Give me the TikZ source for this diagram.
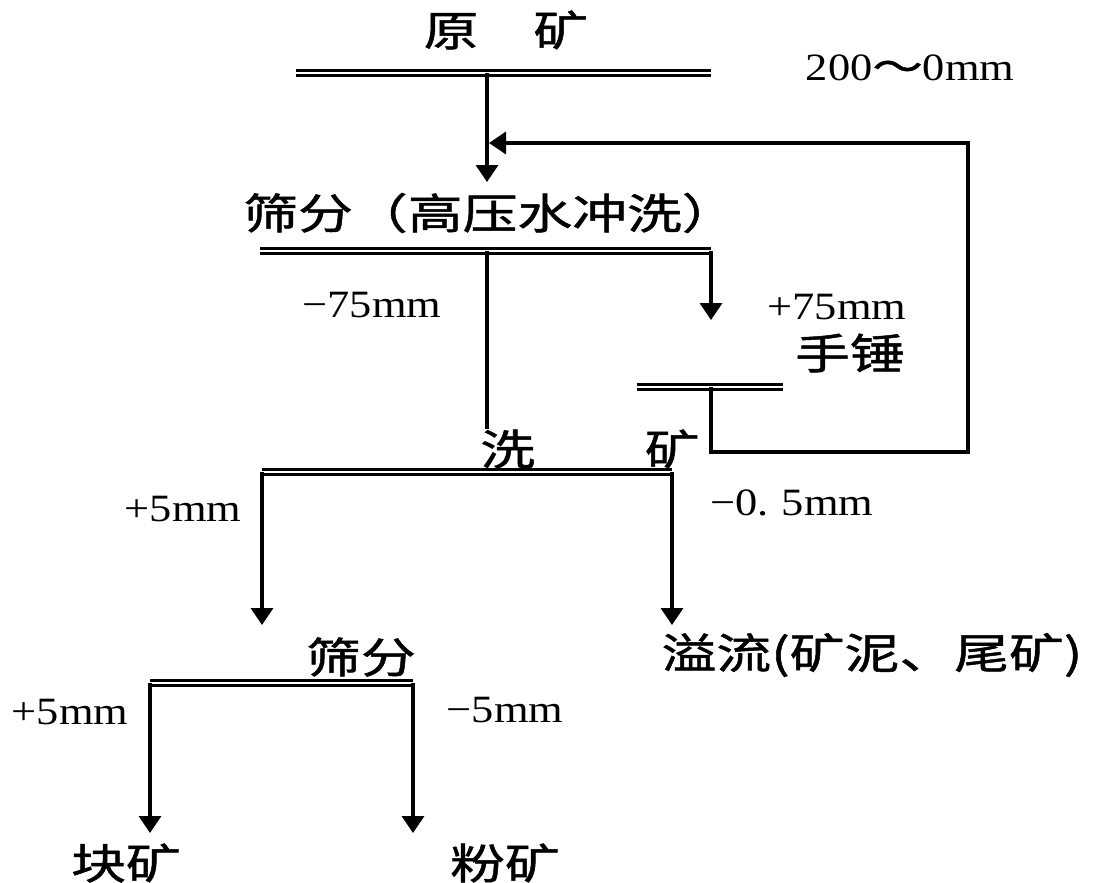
\documentclass[tikz,border=0pt]{standalone}
\usepackage{fontspec}
\setmainfont{Liberation Serif}[FakeStretch=1.15]
\newfontfamily\cjk{Noto Sans CJK SC}[FakeStretch=1.3, FakeBold=1.2]
\usetikzlibrary{arrows.meta,positioning}

\begin{document}
\begin{tikzpicture}[x=0.2mm, y=-0.2mm,
    txt/.style={inner sep=0pt, font=\cjk\fontsize{24pt}{28pt}\selectfont},
    num/.style={inner sep=0pt, font=\fontsize{22pt}{26pt}\selectfont},
    screen/.style={double, line width=0.55mm, double distance=0.35mm},
    flow/.style={line width=0.7mm},
    >={Triangle[length=3.4mm, width=4.4mm]}]
    \useasboundingbox (0,0) rectangle (1104,883);

    % labels
    \node[txt] (ore) at (506,30) {原　矿};
    \node[num] (size) at (910,68) {200{\cjk ～}0mm};
    \node[txt] (sieve1) at (490,213) {筛分（高压水冲洗）};
    \node[num] (m75) at (372,305) {−75mm};
    \node[num] (p75) at (837,307) {+75mm};
    \node[txt] (hammer) at (850,353) {手锤};
    \node[txt] (wash) at (590,449) {洗　　矿};
    \node[num] (p5a) at (183,509) {+5mm};
    \node[num] (m05) at (792,503) {−0.\,\,5mm};
    \node[txt] (sieve2) at (361,657) {筛分};
    \node[txt] (overflow) at (872,655) {溢流(矿泥、尾矿)};
    \node[num] (p5b) at (70,712) {+5mm};
    \node[num] (m5) at (505,710) {−5mm};
    \node[txt] (lump) at (126,863) {块矿};
    \node[txt] (fines) at (505,863) {粉矿};

    % screens
    \coordinate (s1l) at (296,73);  \coordinate (s1r) at (711,73);  \coordinate (s1c) at (487,73);
    \coordinate (s2l) at (260,251); \coordinate (s2r) at (711,251); \coordinate (s2c) at (487,251);
    \coordinate (s3l) at (637,387); \coordinate (s3r) at (783,387); \coordinate (s3c) at (711,387);
    \coordinate (s4l) at (262,472); \coordinate (s4r) at (672,472);
    \coordinate (s5l) at (150,683); \coordinate (s5r) at (413,683);
    \draw[screen] (s1l) -- (s1r);
    \draw[screen] (s2l) -- (s2r);
    \draw[screen] (s3l) -- (s3r);
    \draw[screen] (s4l) -- (s4r);
    \draw[screen] (s5l) -- (s5r);

    % flows
    \coordinate (reta) at (711,452);
    \coordinate (retb) at (968,452);
    \coordinate (retc) at (968,143);
    \draw[flow, ->] (s1c) -- (487,182);
    \draw[flow, ->] (s2r) -- (711,320);
    \draw[flow] (s2c) -- (s2c |- wash.north);
    \draw[flow, ->] (s3c) -- (reta) -- (retb) -- (retc) -- (489,143);
    \draw[flow, ->] (s4l) -- (262,625);
    \draw[flow, ->] (s4r) -- (672,625);
    \draw[flow, ->] (s5l) -- (150,833);
    \draw[flow, ->] (s5r) -- (413,833);
\end{tikzpicture}
\end{document}
